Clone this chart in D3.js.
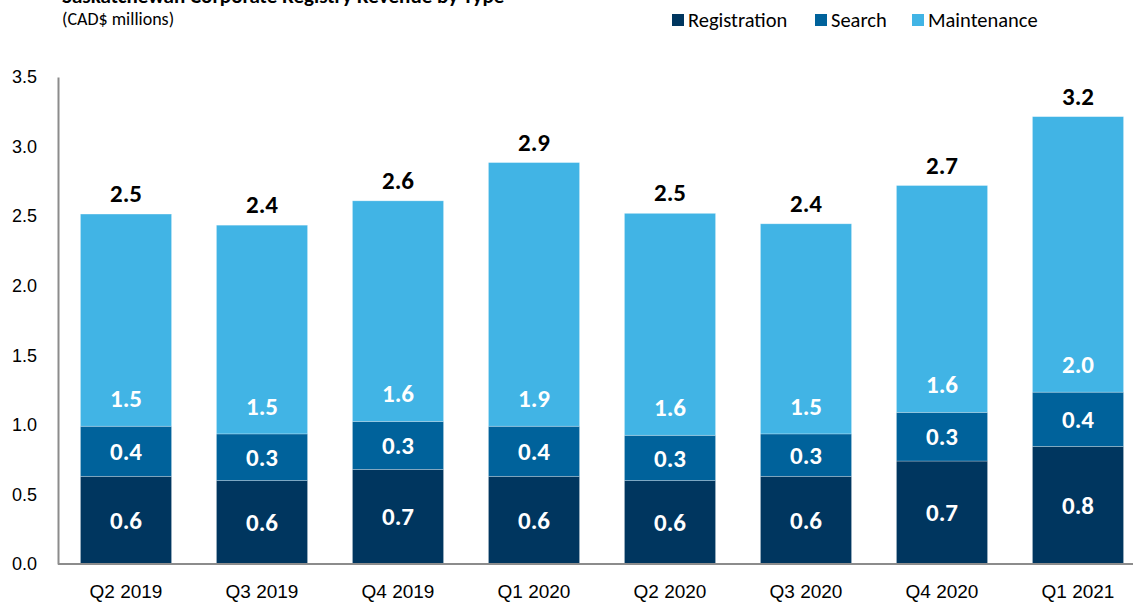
<!DOCTYPE html>
<html>
<head>
<meta charset="utf-8">
<script src="https://cdn.jsdelivr.net/npm/d3@7"></script>
<style>
  html, body { margin: 0; padding: 0; background: #fff; }
  svg { display: block; font-family: Carlito, Lato, "Open Sans", sans-serif; }
</style>
</head>
<body>
<div id="chart"></div>
<script>
const quarters = ['Q2 2019', 'Q3 2019', 'Q4 2019', 'Q1 2020', 'Q2 2020', 'Q3 2020', 'Q4 2020', 'Q1 2021'];
const registration = [0.63, 0.60, 0.68, 0.63, 0.60, 0.63, 0.74, 0.845];
const search = [0.36, 0.335, 0.345, 0.36, 0.325, 0.305, 0.35, 0.39];
const maintenance = [1.525, 1.50, 1.585, 1.895, 1.595, 1.51, 1.63, 1.98];
const yTicks = [0, 0.5, 1.0, 1.5, 2.0, 2.5, 3.0, 3.5];
const seriesNames = ['Registration', 'Search', 'Maintenance'];
const colors = ['#00365f', '#00629b', '#41b4e5'];

const width = 1133, height = 602;
const margin = { top: 77, left: 58, bottom: 38 };

const rows = quarters.map((q, i) => ({
    quarter: q,
    Registration: registration[i],
    Search: search[i],
    Maintenance: maintenance[i]
}));

const stack = d3.stack().keys(seriesNames)(rows);

const x = d3.scaleBand()
    .domain(quarters)
    .range([margin.left, margin.left + 8 * 136])
    .paddingInner(0.33)
    .paddingOuter(0.165);

const y = d3.scaleLinear()
    .domain([0, 3.5])
    .range([height - margin.bottom, margin.top]);

const svg = d3.select('#chart')
    .append('svg')
    .attr('width', width)
    .attr('height', height);

// title, cut off at top like the source
svg.append('text')
    .attr('x', 62)
    .attr('y', 3)
    .attr('font-size', 21)
    .attr('font-weight', 'bold')
    .attr('fill', '#000')
    .text('Saskatchewan Corporate Registry Revenue by Type');

svg.append('text')
    .attr('x', 62)
    .attr('y', 25)
    .attr('font-size', 18)
    .attr('fill', '#000')
    .text('(CAD$ millions)');

// legend
const legendX = [672, 815, 912];
const legend = svg.selectAll('g.legend')
    .data(seriesNames)
    .enter()
    .append('g')
    .attr('class', 'legend')
    .attr('transform', (d, i) => `translate(${legendX[i]}, 14)`);

legend.append('rect')
    .attr('width', 12)
    .attr('height', 12)
    .attr('fill', (d, i) => colors[i]);

legend.append('text')
    .attr('x', 16)
    .attr('y', 13)
    .attr('font-size', 20.5)
    .attr('fill', '#000')
    .text(d => d);

// bars
const layers = svg.selectAll('g.layer')
    .data(stack)
    .enter()
    .append('g')
    .attr('class', 'layer')
    .attr('fill', (d, i) => colors[i]);

layers.selectAll('rect')
    .data(d => d)
    .enter()
    .append('rect')
    .attr('x', d => x(d.data.quarter))
    .attr('y', d => y(d[1]))
    .attr('width', x.bandwidth())
    .attr('height', d => y(d[0]) - y(d[1]))
    .attr('stroke', '#ffffff')
    .attr('stroke-opacity', 0.35)
    .attr('stroke-width', 0.75);

// segment labels
layers.selectAll('text')
    .data(d => d.map(p => ({ p, key: d.key })))
    .enter()
    .append('text')
    .attr('x', d => x(d.p.data.quarter) + x.bandwidth() / 2)
    .attr('y', d => d.key === 'Maintenance' ? y(d.p[0]) - 28 : (y(d.p[0]) + y(d.p[1])) / 2)
    .attr('dy', '0.35em')
    .attr('text-anchor', 'middle')
    .attr('font-size', 25)
    .attr('font-weight', 'bold')
    .attr('fill', '#fff')
    .text(d => d3.format('.1f')(d.p[1] - d.p[0]));

// totals
svg.selectAll('text.total')
    .data(rows)
    .enter()
    .append('text')
    .attr('class', 'total')
    .attr('x', d => x(d.quarter) + x.bandwidth() / 2)
    .attr('y', d => y(d.Registration + d.Search + d.Maintenance) - 12)
    .attr('text-anchor', 'middle')
    .attr('font-size', 25)
    .attr('font-weight', 'bold')
    .attr('fill', '#000')
    .text(d => d3.format('.1f')(d.Registration + d.Search + d.Maintenance));

// y axis
const yAxis = svg.append('g')
    .attr('transform', `translate(${margin.left}, 0)`)
    .call(d3.axisLeft(y).tickValues(yTicks).tickFormat(d3.format('.1f')).tickSize(0).tickPadding(21));
yAxis.select('.domain').attr('stroke', '#8c8c8c').attr('stroke-width', 2);
yAxis.selectAll('text').attr('font-size', 18).attr('fill', '#000').attr('font-family', null);

// x axis
const xAxis = svg.append('g')
    .attr('transform', `translate(0, ${y(0)})`)
    .call(d3.axisBottom(x).tickSize(0).tickPadding(21));
xAxis.select('.domain').remove();
xAxis.append('line')
    .attr('x1', margin.left)
    .attr('x2', width)
    .attr('stroke', '#8c8c8c')
    .attr('stroke-width', 2);
xAxis.selectAll('text').attr('font-size', 19).attr('fill', '#000').attr('font-family', null);
</script>
</body>
</html>
